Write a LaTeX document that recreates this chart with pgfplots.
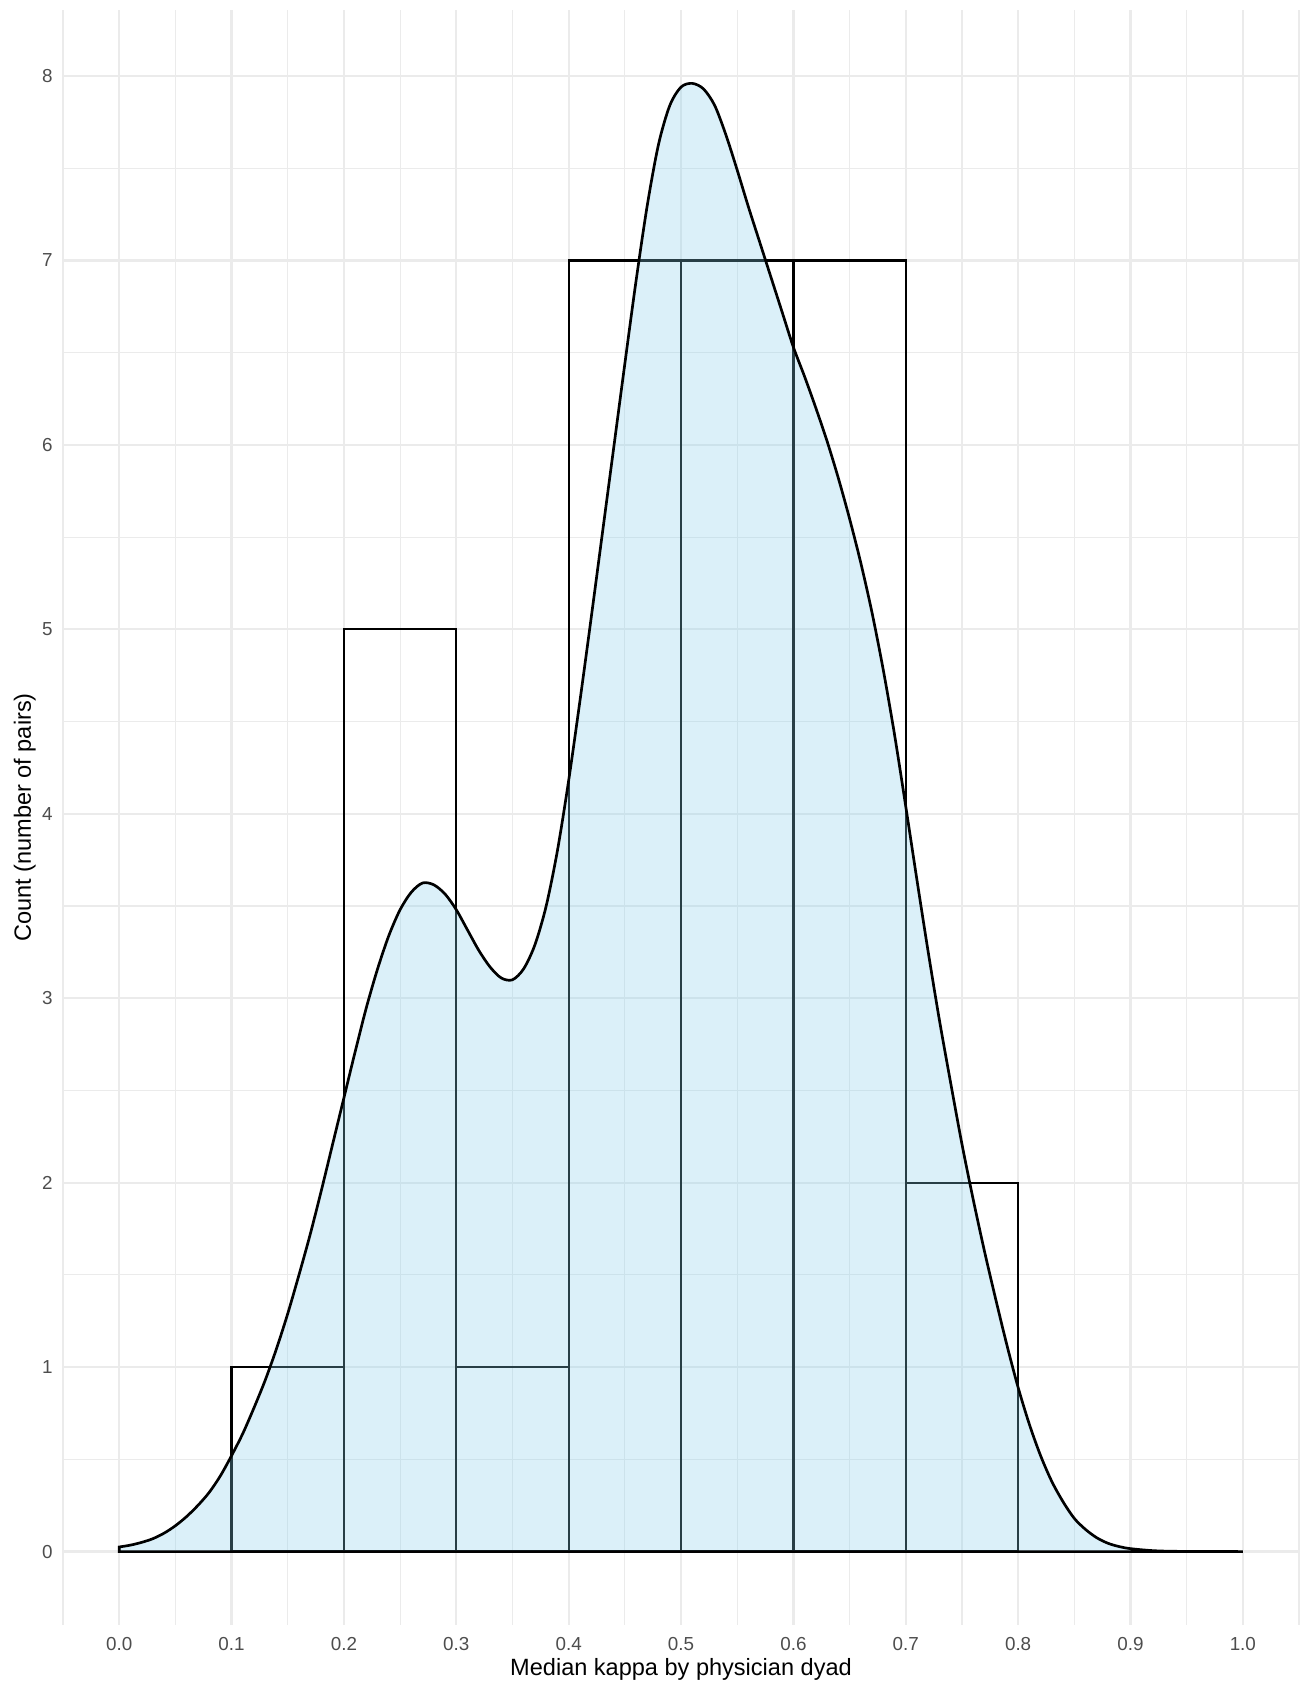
\documentclass[border=0pt]{standalone}
\usepackage{fontspec}
\setmainfont{Liberation Sans}
\usepackage{pgfplots}
\pgfplotsset{compat=1.18}
\definecolor{gridc}{HTML}{EBEBEB}
\definecolor{ticktext}{HTML}{4D4D4D}
\definecolor{skyblue}{RGB}{135,206,235}
\begin{document}
\begin{tikzpicture}
\useasboundingbox (-29.44pt,-27.57pt) rectangle (580.87pt,759.37pt);
\begin{axis}[
  at={(0pt,0pt)}, anchor=south west,
  scale only axis, width=577.6pt, height=754.7pt,
  xmin=-0.05, xmax=1.05, ymin=-0.398, ymax=8.358,
  xtick={0,0.1,0.2,0.3,0.4,0.5,0.6,0.7,0.8,0.9,1.0},
  xticklabels={0.0,0.1,0.2,0.3,0.4,0.5,0.6,0.7,0.8,0.9,1.0},
  minor xtick={-0.05,0.05,0.15,0.25,0.35,0.45,0.55,0.65,0.75,0.85,0.95,1.05},
  ytick={0,1,2,3,4,5,6,7,8},
  minor ytick={0.5,1.5,2.5,3.5,4.5,5.5,6.5,7.5},
  grid=both,
  major grid style={draw=gridc, line width=1.07pt},
  minor grid style={draw=gridc, line width=0.53pt},
  axis line style={draw=none},
  major tick length=0pt, minor tick length=0pt,
  tick style={draw=none},
  /pgf/number format/assume math mode=true,
  ticklabel style={font=\fontsize{8.8}{10}\selectfont, text=ticktext, inner sep=0pt},
  xticklabel style={anchor=north, yshift=-5.47pt},
  yticklabel style={anchor=east, xshift=-4.67pt},
  xlabel={Median kappa by physician dyad},
  ylabel={Count (number of pairs)},
  label style={font=\fontsize{11}{13}\selectfont, text=black, inner sep=0pt},
  xlabel style={at={([yshift=-23.4pt]axis description cs:0.5,0)}, anchor=base},
  ylabel style={at={([xshift=-15pt]axis description cs:0,0.5)}, anchor=base},
  clip=false,
]
\addplot[ybar interval, draw=black, fill=none, line width=1.07pt] coordinates {
  (0.1,1) (0.2,5) (0.3,1) (0.4,7) (0.5,7) (0.6,7) (0.7,2) (0.8,2)
};
\addplot[smooth, tension=0.5, draw=black, line width=1.25pt, fill=skyblue, fill opacity=0.3] coordinates {
(0.00,0.025) (0.01,0.035) (0.02,0.05) (0.03,0.07) (0.04,0.10)
(0.05,0.14) (0.06,0.19) (0.07,0.25) (0.08,0.32) (0.09,0.41)
(0.10,0.52) (0.11,0.64) (0.12,0.78) (0.13,0.93) (0.14,1.10)
(0.15,1.29) (0.16,1.50) (0.17,1.72) (0.18,1.96) (0.19,2.21)
(0.20,2.46) (0.21,2.71) (0.22,2.95) (0.23,3.16) (0.24,3.34)
(0.25,3.48) (0.26,3.575) (0.27,3.625) (0.28,3.615) (0.29,3.565)
(0.30,3.48) (0.31,3.37) (0.32,3.26) (0.33,3.17) (0.34,3.11)
(0.35,3.10) (0.36,3.16) (0.37,3.29) (0.38,3.50) (0.39,3.80)
(0.40,4.18) (0.41,4.61) (0.42,5.06) (0.43,5.52) (0.44,5.98)
(0.45,6.44) (0.46,6.89) (0.47,7.30) (0.48,7.63) (0.49,7.84)
(0.50,7.94) (0.51,7.96) (0.52,7.93) (0.53,7.84) (0.54,7.68)
(0.55,7.49) (0.56,7.29) (0.57,7.10) (0.58,6.91) (0.59,6.72)
(0.60,6.53) (0.61,6.37) (0.62,6.20) (0.63,6.02) (0.64,5.82)
(0.65,5.60) (0.66,5.36) (0.67,5.09) (0.68,4.78) (0.69,4.43)
(0.70,4.04) (0.71,3.64) (0.72,3.25) (0.73,2.88) (0.74,2.54)
(0.75,2.21) (0.76,1.91) (0.77,1.63) (0.78,1.37) (0.79,1.12)
(0.80,0.89) (0.81,0.69) (0.82,0.52) (0.83,0.38) (0.84,0.27)
(0.85,0.18) (0.86,0.12) (0.87,0.075) (0.88,0.045) (0.89,0.027)
(0.90,0.016) (0.92,0.005) (0.94,0.0015) (0.97,0.0003) (1.00,0.0)
} \closedcycle;
\end{axis}
\end{tikzpicture}
\end{document}
